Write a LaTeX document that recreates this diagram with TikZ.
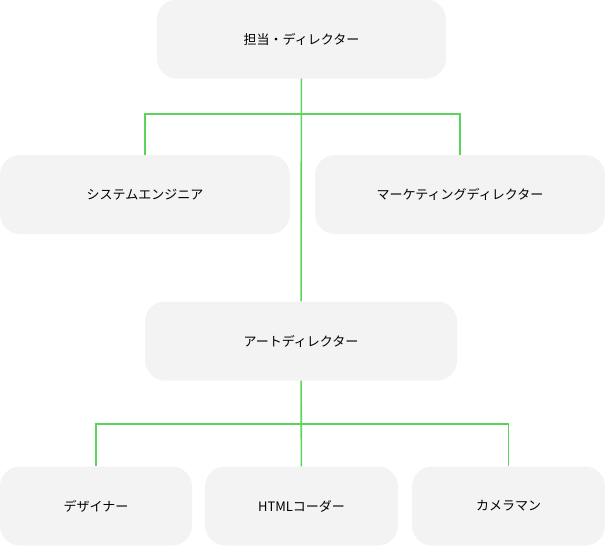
\documentclass[tikz,border=0pt]{standalone}
\usepackage{fontspec}
\newfontfamily\jpfont{Noto Sans CJK JP}
\usetikzlibrary{positioning}
\definecolor{boxgray}{HTML}{F3F3F3}
\definecolor{linegreen}{HTML}{5CD45C}
\tikzset{
  box/.style={fill=boxgray, rounded corners=20pt, minimum height=79pt, font=\jpfont\fontsize{13pt}{15pt}\selectfont, inner sep=0pt},
  line/.style={draw=linegreen, line width=1.6pt}
}
\begin{document}
\begin{tikzpicture}[x=1pt, y=-1pt]
	\useasboundingbox (0,0) rectangle (605,546);
	\node[box, minimum width=289pt](tanto) at (301.5,39){担当・ディレクター};
	\node[box, minimum width=290pt](se) at (145,194.5){システムエンジニア};
	\node[box, minimum width=290pt](md) at (460,194.5){マーケティングディレクター};
	\node[box, minimum width=312pt](ad) at (301,341){アートディレクター};
	\node[box, minimum width=192pt](des) at (96,506){デザイナー};
	\node[box, minimum width=193pt](html) at (301.5,506){HTMLコーダー};
	\node[box, minimum width=193pt](cam) at (508.5,506){カメラマン};
	\coordinate (top1) at (301.5,114);
	\coordinate (top2) at (301,424);

	\path [line] (tanto) -- (ad);
	\path [line] (se.north) |- (top1) -| (md.north);
	\path [line] (ad) -- (html);
	\path [line] (des.north) |- (top2) -| (cam.north);
\end{tikzpicture}
\end{document}
